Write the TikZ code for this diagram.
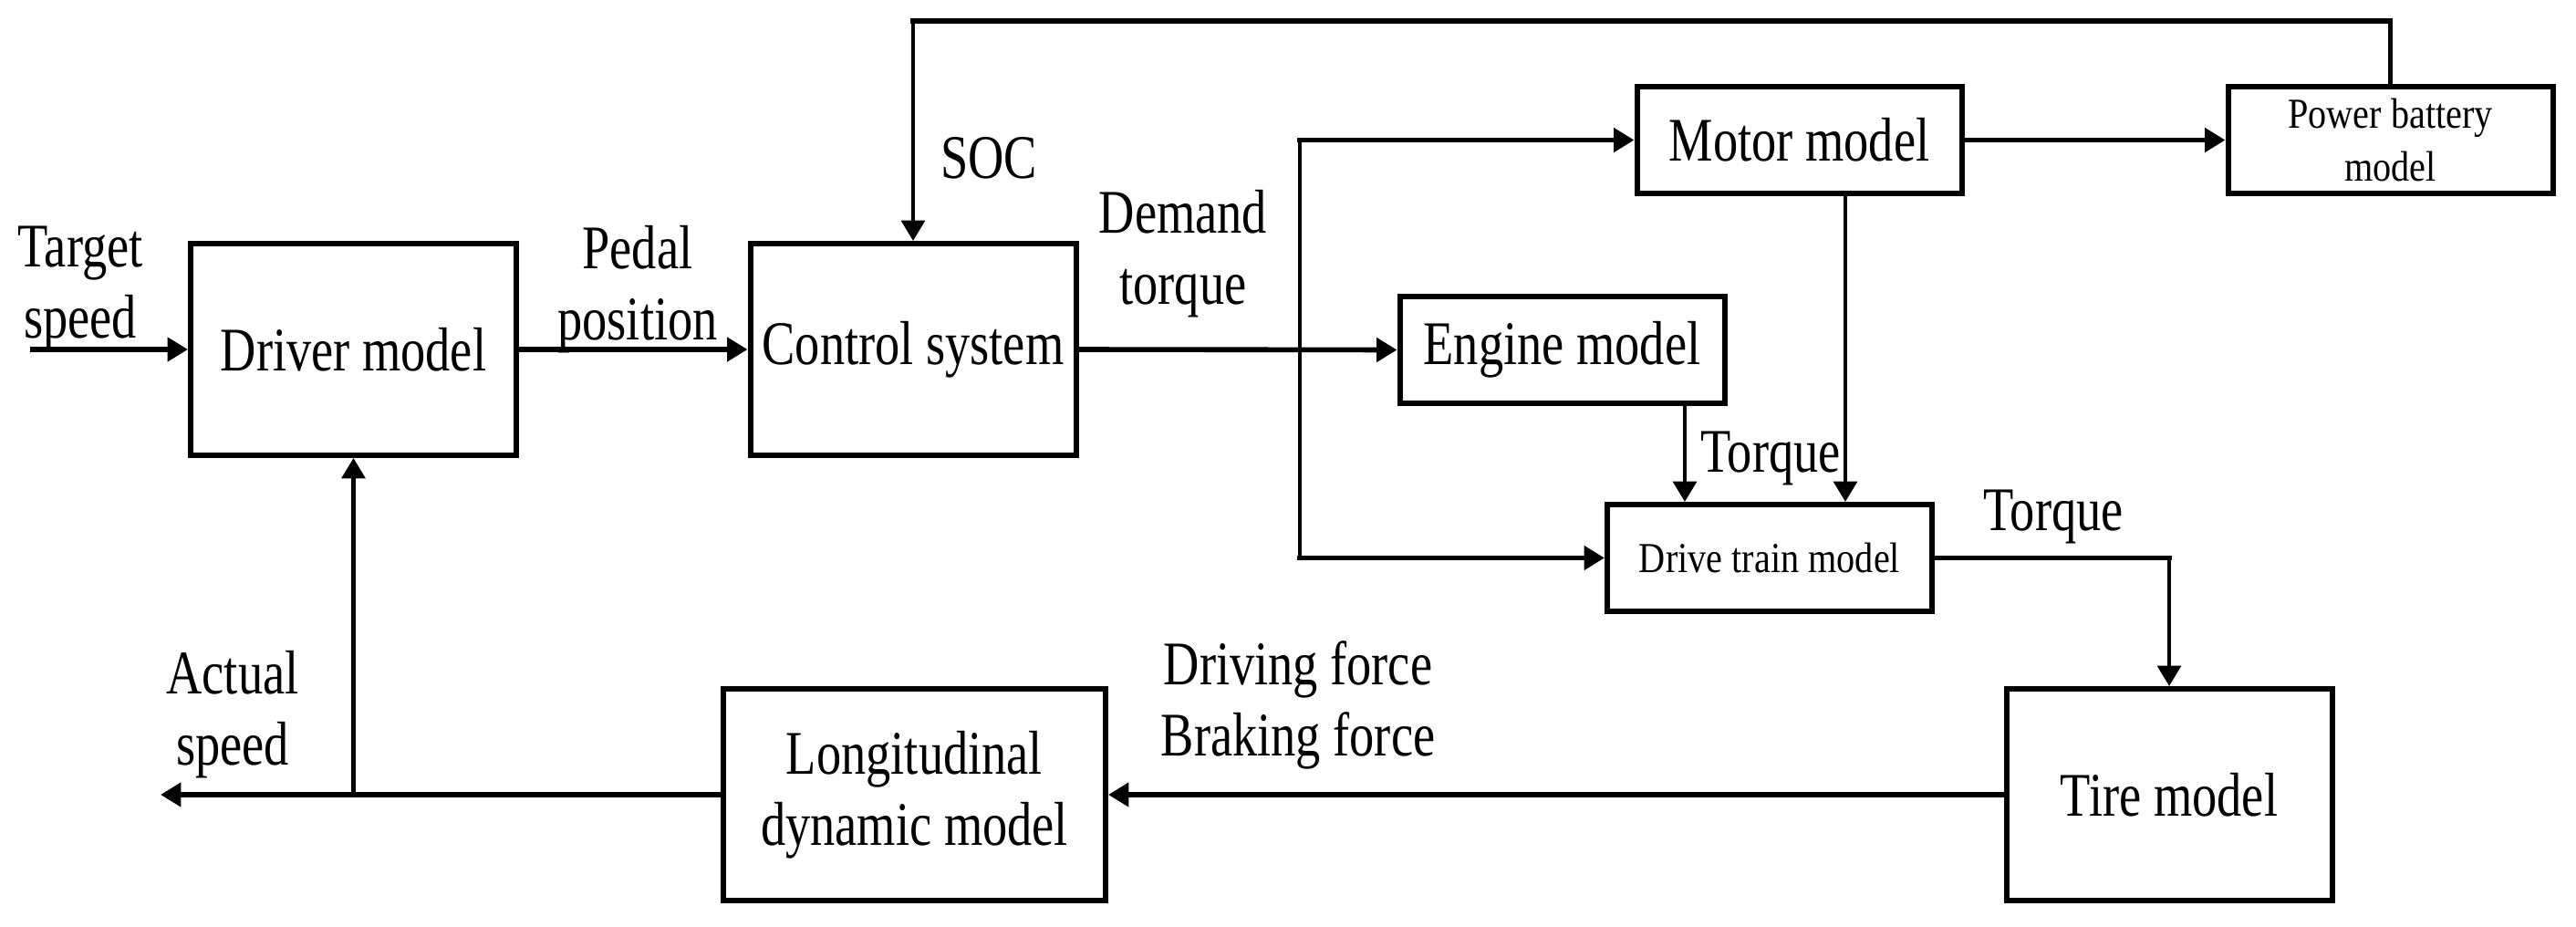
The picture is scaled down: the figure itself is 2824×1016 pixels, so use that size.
\documentclass[tikz,border=0pt]{standalone}
\usepackage{fontspec}
\setmainfont{Liberation Serif}[FakeStretch=0.8]
\newfontfamily\smallfont{Liberation Serif}[FakeStretch=0.86]
\usetikzlibrary{arrows.meta}
\begin{document}
\begin{tikzpicture}[x=0.25pt,y=-0.25pt,
  box/.style={draw, line width=1.5pt, inner sep=0pt, align=center,
    font=\fontsize{17pt}{19.5pt}\selectfont},
  bigbox/.style={box, minimum width=89.25pt, minimum height=58pt},
  smallbox/.style={box, minimum width=89pt, minimum height=29.25pt},
  smalltext/.style={font=\smallfont\fontsize{11.7pt}{14.5pt}\selectfont},
  lbl/.style={inner sep=0pt, align=center, font=\fontsize{17pt}{19.5pt}\selectfont},
  tip/.style={-{Triangle[length=5.6pt,width=6.4pt]}},
  hln/.style={line width=1.4pt, line cap=rect},
  vln/.style={line width=1.1pt},
  harr/.style={hln, tip},
  varr/.style={vln, tip}]
\useasboundingbox (0,0) rectangle (2824,1016);
\fill[white] (0,0) rectangle (2824,1016);

% blocks
\node[bigbox] (driver) at (387.5,383) {Driver model};
\node[bigbox] (ctrl) at (1001,383) {Control system};
\node[smallbox] (mot) at (1972.5,153.5) {Motor model};
\node[smallbox, smalltext] (bat) at (2620.5,153.5) {Power battery\\model};
\node[smallbox] (eng) at (1712.5,383.5) {Engine model};
\node[smallbox, smalltext] (drv) at (1940,611.5) {Drive train model};
\node[bigbox] (tire) at (2378,871) {Tire model};
\node[bigbox, minimum width=104.75pt] (long) at (1002.5,871) {Longitudinal\\dynamic model};

% helper coordinates
\coordinate (inL) at (36,383);
\coordinate (fbR) at (2620.5,23);
\coordinate (fbL) at (1001,23);
\coordinate (busT) at (1425,153.5);
\coordinate (busB) at (1425,611.5);
\coordinate (mx) at (2023,0);
\coordinate (ex) at (1847,0);
\coordinate (dtc) at (2378,611.5);
\coordinate (outL) at (176,871);
\coordinate (jn) at (387.5,871);

% connectors
\draw[harr] (inL) -- (driver.west);
\draw[harr] (driver.east) -- (ctrl.west);
\draw[harr] (ctrl.east) -- (eng.west);
\draw[vln] (busB) -- (busT);
\draw[harr] (busT) -- (mot.west);
\draw[harr] (busB) -- (drv.west);
\draw[harr] (mot.east) -- (bat.west);
\draw[vln] (bat.north) -- (fbR);
\draw[hln] (fbR) -- (fbL);
\draw[varr] (fbL) -- (ctrl.north);
\draw[varr] (eng.south -| ex) -- (drv.north -| ex);
\draw[varr] (mot.south -| mx) -- (drv.north -| mx);
\draw[hln] (drv.east) -- (dtc);
\draw[varr] (dtc) -- (tire.north);
\draw[harr] (tire.west) -- (long.east);
\draw[harr] (long.west) -- (outL);
\draw[varr] (jn) -- (driver.south);

% labels
\node[lbl] (tgt) at (88,316) {Target\\speed};
\node[lbl] (pedal) at (699,317) {Pedal\\position};
\node[lbl, anchor=base] (soc) at (1084,195) {SOC};
\node[lbl] (dem) at (1297,278.5) {Demand\\torque};
\node[lbl, anchor=base] (tq1) at (1941,517) {Torque};
\node[lbl, anchor=base] (tq2) at (2251,581) {Torque};
\node[lbl] (act) at (255,783) {Actual\\speed};
\node[lbl] (force) at (1423,773) {Driving force\\Braking force};
\end{tikzpicture}
\end{document}
